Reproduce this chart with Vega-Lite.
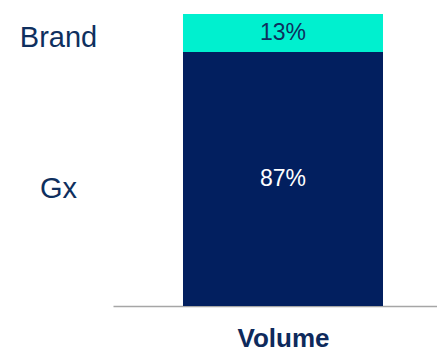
{
  "$schema": "https://vega.github.io/schema/vega-lite/v6.json",
  "autosize": {"type": "none"},
  "padding": {"left": 113, "top": 14, "right": 0, "bottom": 44},
  "width": 324,
  "height": 292,
  "background": "white",
  "config": {"view": {"stroke": null}, "font": "Liberation Sans"},
  "data": {"values": [
    {"metric": "Volume", "segment": "Gx", "share": 0.87},
    {"metric": "Volume", "segment": "Brand", "share": 0.13}
  ]},
  "encoding": {
    "x": {
      "field": "metric", "type": "nominal",
      "scale": {"paddingInner": 0, "paddingOuter": 0.31, "align": 0.5645},
      "axis": {
        "title": "Volume", "labels": false, "ticks": false,
        "domainColor": "#A6A6A6", "domainWidth": 1.5,
        "titleFont": "Liberation Sans", "titleFontSize": 26, "titleFontWeight": "bold",
        "titleColor": "#0E2A5C", "titlePadding": 19, "titleX": 170, "titleAlign": "center"
      }
    },
    "y": {
      "field": "share", "type": "quantitative", "stack": "zero",
      "scale": {"domain": [0, 1], "nice": false},
      "axis": {
        "title": null, "domain": false, "ticks": false, "grid": false,
        "values": [0.404, 0.918],
        "labelExpr": "datum.value > 0.6 ? 'Brand' : 'Gx'",
        "labelFont": "Liberation Sans", "labelFontSize": 29, "labelColor": "#0E2F5E",
        "labelAlign": "center", "labelBaseline": "middle", "labelPadding": 55,
        "labelOverlap": false, "labelBound": false, "labelFlush": false
      }
    },
    "order": {"field": "segment", "sort": "descending"}
  },
  "layer": [
    {
      "mark": {"type": "bar"},
      "encoding": {
        "color": {
          "field": "segment", "type": "nominal",
          "scale": {"domain": ["Gx", "Brand"], "range": ["#021F5F", "#00F0CF"]},
          "legend": null
        }
      }
    },
    {
      "mark": {"type": "text", "font": "Liberation Sans", "fontSize": 23, "baseline": "middle"},
      "encoding": {
        "y": {"field": "share", "type": "quantitative", "stack": "zero", "bandPosition": 0.5},
        "text": {"field": "share", "type": "quantitative", "format": ".0%"},
        "color": {
          "condition": {"test": "datum.segment == 'Brand'", "value": "#0E2F5E"},
          "value": "white"
        }
      }
    }
  ]
}
